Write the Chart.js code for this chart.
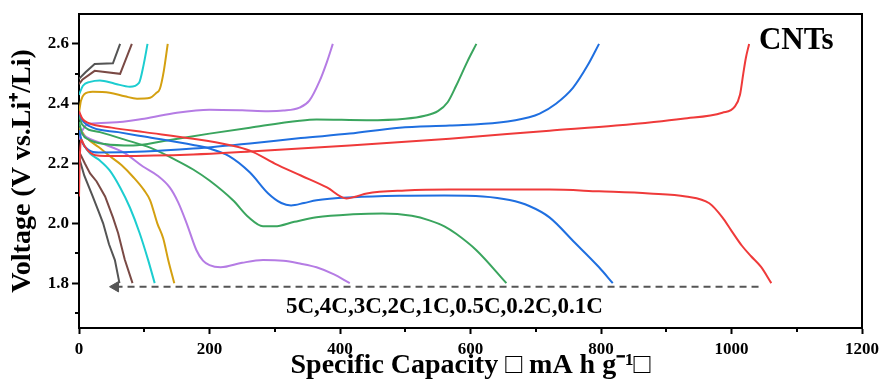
<!DOCTYPE html>
<html>
<head>
<meta charset="utf-8">
<script src="https://cdn.jsdelivr.net/npm/chart.js@4.4.1/dist/chart.umd.min.js"></script>
<style>
  html, body { margin: 0; padding: 0; background: #ffffff; }
  #wrap { width: 884px; height: 385px; }
</style>
</head>
<body>
<div id="wrap"><canvas id="c" width="884" height="385"></canvas></div>
<script>
// ---- Rates (legend order in the annotation) ----
const rates = ['5C', '4C', '3C', '2C', '1C', '0.5C', '0.2C', '0.1C'];
const rateColors = ['#545454', '#7a4a45', '#1ccdd0', '#d4a010', '#b57ce4', '#3aa55e', '#1f6fe0', '#ef3a3a'];

// ---- Axis ticks ----
const xMajorTicks = [0, 200, 400, 600, 800, 1000, 1200];
const xMinorTicks = [100, 300, 500, 700, 900, 1100];
const yMajorTicks = [1.8, 2.0, 2.2, 2.4, 2.6];
const yMinorTicks = [1.7, 1.9, 2.1, 2.3, 2.5];

// ---- Discharge curves: [capacity (mA h g-1), voltage (V)] ----
const dis5C = [[0,2.22],[8,2.16],[21,2.09],[30,2.04],[37,2.0],[46,1.93],[55,1.877],[62,1.80]];
const dis4C = [[0,2.24],[9,2.2],[17,2.167],[27,2.14],[40,2.09],[52,2.02],[60,1.967],[70,1.88],[82,1.80]];
const dis3C = [[0,2.30],[8,2.26],[17,2.233],[32,2.21],[47,2.177],[63,2.12],[78,2.053],[93,1.967],[106,1.877],[116,1.80]];
const dis2C = [[0,2.32],[12,2.285],[30,2.255],[47,2.225],[65,2.195],[83,2.155],[100,2.11],[109,2.077],[120,2.0],[129,1.95],[137,1.875],[146,1.80]];
const dis1C = [[0,2.31],[10,2.29],[32,2.27],[70,2.235],[98,2.19],[120,2.16],[139,2.12],[152,2.07],[165,2.0],[180,1.91],[190,1.875],[200,1.86],[217,1.853],[250,1.868],[282,1.877],[313,1.875],[340,1.865],[364,1.853],[390,1.83],[415,1.80]];
const dis05C = [[0,2.36],[5,2.33],[32,2.305],[70,2.28],[109,2.253],[150,2.21],[175,2.18],[200,2.143],[236,2.077],[260,2.02],[282,1.99],[300,1.99],[330,2.005],[364,2.02],[420,2.03],[465,2.033],[510,2.025],[537,2.01],[560,1.99],[578,1.965],[609,1.91],[655,1.80]];
const dis02C = [[0,2.37],[5,2.345],[21,2.32],[60,2.305],[100,2.29],[175,2.262],[200,2.25],[230,2.225],[262,2.17],[290,2.1],[310,2.068],[325,2.06],[345,2.068],[364,2.077],[420,2.087],[491,2.092],[560,2.093],[619,2.09],[660,2.078],[690,2.058],[721,2.02],[760,1.935],[797,1.853],[818,1.80]];
const dis01C = [[0,2.375],[5,2.35],[15,2.335],[50,2.32],[100,2.305],[175,2.283],[230,2.262],[262,2.243],[300,2.2],[340,2.16],[380,2.12],[410,2.083],[425,2.09],[441,2.1],[500,2.11],[568,2.113],[721,2.113],[797,2.107],[874,2.1],[930,2.09],[966,2.067],[986,2.02],[1000,1.975],[1016,1.925],[1030,1.89],[1045,1.855],[1061,1.80]];

// ---- Charge curves ----
const chg5C = [[0,2.483],[10,2.505],[24,2.533],[52,2.535],[63,2.60]];
const chg4C = [[0,2.465],[5,2.48],[24,2.51],[63,2.50],[81,2.60]];
const chg3C = [[0,2.43],[6,2.46],[17,2.473],[32,2.478],[55,2.467],[78,2.457],[92,2.47],[99,2.53],[105,2.60]];
const chg2C = [[0,2.37],[3,2.41],[8,2.432],[21,2.44],[47,2.437],[70,2.425],[89,2.417],[109,2.42],[118,2.435],[124,2.45],[130,2.51],[136,2.60]];
const chg1C = [[0,2.28],[5,2.31],[15,2.333],[50,2.337],[100,2.35],[150,2.37],[200,2.38],[250,2.378],[290,2.375],[313,2.377],[338,2.387],[353,2.41],[369,2.477],[380,2.54],[389,2.60]];
const chg05C = [[0,2.34],[5,2.3],[15,2.28],[40,2.265],[83,2.26],[130,2.275],[200,2.30],[262,2.32],[338,2.343],[364,2.347],[441,2.345],[500,2.35],[530,2.36],[550,2.375],[565,2.405],[578,2.46],[595,2.54],[609,2.60]];
const chg02C = [[0,2.31],[5,2.27],[15,2.245],[30,2.237],[100,2.24],[175,2.25],[262,2.267],[340,2.285],[415,2.30],[491,2.32],[568,2.327],[644,2.337],[690,2.355],[706,2.367],[731,2.40],[757,2.453],[780,2.53],[797,2.60]];
const chg01C = [[0,2.09],[1,2.2],[3,2.28],[8,2.26],[15,2.24],[25,2.228],[60,2.225],[175,2.23],[262,2.24],[415,2.26],[568,2.283],[721,2.31],[823,2.327],[925,2.35],[986,2.37],[1005,2.39],[1013,2.43],[1018,2.50],[1022,2.553],[1027,2.60]];

// ---- Cut-off marker (dashed arrow) ----
const cutoffLine = [[56,1.788],[1045,1.788]];

const dischargeSets = [dis5C, dis4C, dis3C, dis2C, dis1C, dis05C, dis02C, dis01C];
const chargeSets = [chg5C, chg4C, chg3C, chg2C, chg1C, chg05C, chg02C, chg01C];

const toPts = arr => arr.map(p => ({ x: p[0], y: p[1] }));
const datasets = [];
for (let i = rates.length - 1; i >= 0; i--) {
  const smooth = i >= 2;
  [['discharge', dischargeSets[i]], ['charge', chargeSets[i]]].forEach(([kind, arr]) => {
    datasets.push({
      label: rates[i] + ' ' + kind,
      data: toPts(arr),
      borderColor: rateColors[i],
      backgroundColor: rateColors[i],
      borderWidth: 2,
      pointRadius: 0,
      fill: false,
      tension: smooth ? 0.4 : 0,
      cubicInterpolationMode: smooth ? 'monotone' : 'default'
    });
  });
}
datasets.push({
  label: 'cut-off',
  data: toPts(cutoffLine),
  borderColor: '#555555',
  backgroundColor: '#555555',
  borderWidth: 2,
  borderDash: [7, 5],
  pointStyle: 'triangle',
  rotation: -90,
  pointRadius: [6, 0],
  pointBorderWidth: 1,
  fill: false,
  tension: 0
});

const serif = "'Liberation Serif', 'Times New Roman', serif";

const extras = {
  id: 'extras',
  afterDraw(chart) {
    const { ctx, chartArea, scales } = chart;
    ctx.save();
    ctx.strokeStyle = '#000';
    ctx.lineWidth = 2;
    ctx.beginPath();
    ctx.moveTo(chartArea.left, chartArea.top);
    ctx.lineTo(chartArea.right, chartArea.top);
    ctx.lineTo(chartArea.right, chartArea.bottom);
    ctx.stroke();

    // minor ticks (shorter than major)
    ctx.beginPath();
    xMinorTicks.forEach(v => {
      const px = Math.round(scales.x.getPixelForValue(v));
      ctx.moveTo(px, chartArea.bottom);
      ctx.lineTo(px, chartArea.bottom + 4);
    });
    yMinorTicks.forEach(v => {
      const py = Math.round(scales.y.getPixelForValue(v));
      ctx.moveTo(chartArea.left, py);
      ctx.lineTo(chartArea.left - 4, py);
    });
    ctx.stroke();

    ctx.fillStyle = '#000';
    ctx.textBaseline = 'alphabetic';
    ctx.font = 'bold 31px ' + serif;
    ctx.textAlign = 'left';
    ctx.fillText('CNTs', scales.x.getPixelForValue(1042), scales.y.getPixelForValue(2.583));

    ctx.font = 'bold 23px ' + serif;
    ctx.textAlign = 'center';
    ctx.fillText(rates.join(','), scales.x.getPixelForValue(560), scales.y.getPixelForValue(1.7));
    ctx.restore();
  }
};

new Chart(document.getElementById('c'), {
  type: 'line',
  data: { datasets },
  options: {
    responsive: false,
    animation: false,
    devicePixelRatio: 1,
    layout: { padding: { top: 14, right: 21, left: 0, bottom: 0 } },
    plugins: { legend: { display: false }, tooltip: { enabled: false } },
    scales: {
      x: {
        type: 'linear',
        min: 0, max: 1200,
        afterBuildTicks: s => { s.ticks = xMajorTicks.map(v => ({ value: v })); },
        afterFit: s => { s.height = 57; },
        ticks: {
          autoSkip: false, maxRotation: 0, padding: 5, color: '#000',
          font: { family: serif, size: 17, weight: 'bold' },
          callback: v => String(v)
        },
        grid: { drawOnChartArea: false, drawTicks: true, tickLength: 6, tickWidth: 2, tickColor: '#000' },
        border: { display: true, color: '#000', width: 2 },
        title: {
          display: true, text: 'Specific Capacity \u25A1 mA h g\u207B\u00B9\u25A1', color: '#000',
          font: { family: serif, size: 28, weight: 'bold' }, padding: { top: 0, bottom: 2 }
        }
      },
      y: {
        type: 'linear',
        min: 1.65, max: 2.7,
        afterBuildTicks: s => { s.ticks = yMajorTicks.map(v => ({ value: v })); },
        afterFit: s => { s.width = 79; },
        ticks: {
          autoSkip: false, padding: 3, color: '#000',
          font: { family: serif, size: 17, weight: 'bold' },
          callback: v => v.toFixed(1)
        },
        grid: { drawOnChartArea: false, drawTicks: true, tickLength: 7, tickWidth: 2, tickColor: '#000' },
        border: { display: true, color: '#000', width: 2 },
        title: {
          display: true, text: 'Voltage (V vs.Li\u207A/Li)', color: '#000',
          font: { family: serif, size: 28, weight: 'bold' }, padding: { top: 6, bottom: 0 }
        }
      }
    }
  },
  plugins: [extras]
});
</script>
</body>
</html>
